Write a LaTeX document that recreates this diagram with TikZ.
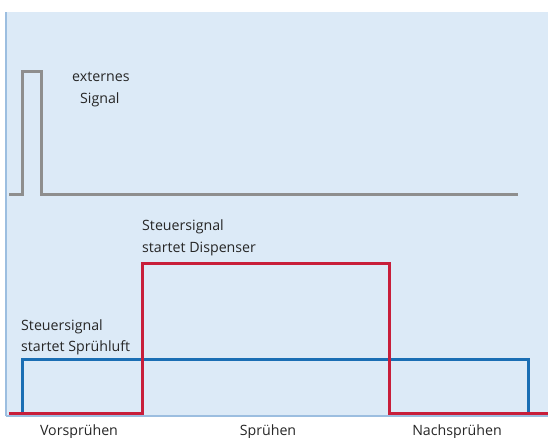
\documentclass[tikz,border=0pt]{standalone}
\usepackage{fontspec}
\setmainfont{Open Sans}
\definecolor{bgblue}{HTML}{DCEAF7}
\definecolor{edgeblue}{HTML}{9CBEE0}
\definecolor{sigred}{HTML}{C81E3A}
\definecolor{sigblue}{HTML}{1A6EB4}
\definecolor{siggrey}{HTML}{8E8E8E}
\definecolor{txt}{HTML}{262626}
\tikzset{
  wave/.style={line width=3pt, line join=miter},
  lbl/.style={font=\fontsize{14.2}{16}\selectfont, text=txt, inner sep=0pt, anchor=base west},
  phase/.style={font=\fontsize{14.2}{16}\selectfont, text=txt, inner sep=0pt, anchor=base}
}
\begin{document}
\begin{tikzpicture}[x=1pt,y=-1pt]
\useasboundingbox (0,0) rectangle (548,437);
\fill[bgblue] (6,12) rectangle (548,416);
\draw[edgeblue, line width=1.5pt] (6,12) -- (6,416);
\draw[edgeblue, line width=1.5pt] (6,416) -- (548,416);
% grey external signal
\draw[wave, siggrey] (9,194) -- (22,194) -- (22,71) -- (41,71) -- (41,194) -- (518,194);
% blue
\draw[wave, sigblue] (22,413) -- (22,359) -- (528,359) -- (528,413);
% red
\draw[wave, sigred] (9,413) -- (142,413) -- (142,263) -- (389,263) -- (389,413) -- (548,413);
% texts
\node[lbl] (ext1) at (72,81) {externes};
\node[lbl] (ext2) at (80,103) {Signal};
\node[lbl] (d1) at (142,230) {Steuersignal};
\node[lbl] (d2) at (142,252) {startet Dispenser};
\node[lbl] (s1) at (21,330) {Steuersignal};
\node[lbl] (s2) at (21,351) {startet Sprühluft};
\node[phase] (p1) at (79,435) {Vorsprühen};
\node[phase] (p2) at (268,435) {Sprühen};
\node[phase] (p3) at (457,435) {Nachsprühen};
\end{tikzpicture}
\end{document}
